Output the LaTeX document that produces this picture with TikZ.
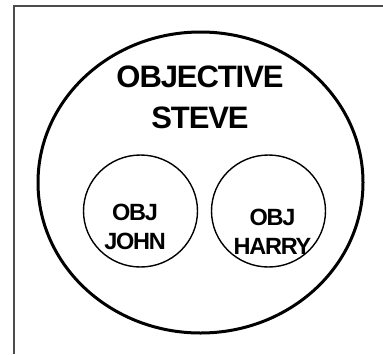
\documentclass[tikz,border=0pt]{standalone}
\usepackage{fontspec}
\setmainfont{Liberation Sans}
\usetikzlibrary{shapes.geometric}
\begin{document}
\begin{tikzpicture}[x=1pt,y=-1pt,
  bigellipse/.style={draw=black,line width=3pt,ellipse,inner sep=0pt,minimum width=325pt,minimum height=301pt},
  smallcircle/.style={draw=black,line width=1.4pt,ellipse,inner sep=0pt,minimum width=114pt,minimum height=112pt},
  bigtext/.style={align=center,inner sep=0pt,font=\fontsize{31}{40.5}\selectfont\bfseries\addfontfeature{LetterSpace=-3.5}},
  smalltext/.style={align=center,inner sep=0pt,font=\fontsize{23.5}{29}\selectfont\bfseries\addfontfeature{LetterSpace=-5.5}},
  frameline/.style={draw=black!70,line width=2pt}]
\useasboundingbox (0,0) rectangle (383,354);
\coordinate (fbl) at (13.5,354);
\coordinate (ftl) at (13.5,6);
\coordinate (ftr) at (383,6);
\draw[frameline] (fbl) -- (ftl) -- (ftr);
\node[bigellipse] (steve) at (200.5,182.5) {};
\node[smallcircle] (john) at (140.5,211) {};
\node[smallcircle] (harry) at (268.5,211) {};
\node[bigtext] (stevetext) at (200,97.5) {OBJECTIVE\\STEVE};
\node[smalltext] (johntext) at (135,226.5) {OBJ\\JOHN};
\node[smalltext] (harrytext) at (272.5,232) {OBJ\\HARRY};
\end{tikzpicture}
\end{document}
